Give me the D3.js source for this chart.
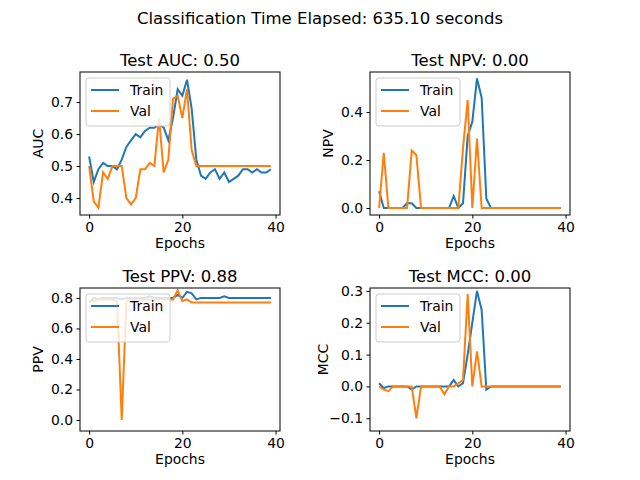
<!DOCTYPE html>
<html><head><meta charset="utf-8">
<script src="https://cdn.jsdelivr.net/npm/d3@7"></script>
<style>body{margin:0;background:#fff}text{font-family:"DejaVu Sans",sans-serif}</style>
</head><body><svg id="c" width="640" height="480"></svg>
<script>
var epochs = d3.range(40);
var aucTrain = [0.53,0.45,0.49,0.51,0.50,0.50,0.49,0.52,0.56,0.58,0.60,0.59,0.61,0.62,0.62,0.63,0.62,0.58,0.65,0.74,0.72,0.77,0.68,0.52,0.47,0.46,0.48,0.49,0.46,0.48,0.45,0.46,0.47,0.49,0.49,0.48,0.49,0.48,0.48,0.49];
var aucVal = [0.50,0.39,0.37,0.48,0.46,0.50,0.50,0.50,0.40,0.38,0.40,0.49,0.49,0.51,0.50,0.65,0.48,0.52,0.71,0.72,0.65,0.74,0.55,0.50,0.50,0.50,0.50,0.50,0.50,0.50,0.50,0.50,0.50,0.50,0.50,0.50,0.50,0.50,0.50,0.50];
var npvTrain = [0.07,0,0,0,0,0,0.02,0.02,0,0,0,0,0,0,0,0,0.05,0,0.02,0.30,0.36,0.54,0.46,0.04,0,0,0,0,0,0,0,0,0,0,0,0,0,0,0,0];
var npvVal = [0,0.23,0,0,0,0,0,0.24,0.22,0,0,0,0,0,0,0,0,0,0.25,0.45,0,0.29,0,0,0,0,0,0,0,0,0,0,0,0,0,0,0,0,0,0];
var ppvTrain = [0.77,0.80,0.79,0.80,0.80,0.80,0.80,0.79,0.80,0.80,0.80,0.80,0.80,0.81,0.80,0.80,0.80,0.80,0.80,0.82,0.80,0.84,0.83,0.79,0.80,0.80,0.80,0.80,0.80,0.81,0.80,0.80,0.80,0.80,0.80,0.80,0.80,0.80,0.80,0.80];
var ppvVal = [0.78,0.78,0.79,0.79,0.79,0.79,0.78,0.0,0.78,0.79,0.79,0.79,0.79,0.79,0.79,0.79,0.79,0.79,0.79,0.85,0.78,0.79,0.77,0.77,0.77,0.77,0.77,0.77,0.77,0.77,0.77,0.77,0.77,0.77,0.77,0.77,0.77,0.77,0.77,0.77];
var mccTrain = [0.01,-0.005,0,0,0,0,0,-0.01,0,0,0,0,0,0,0,0,0.02,0,0.01,0.10,0.20,0.30,0.24,-0.01,0,0,0,0,0,0,0,0,0,0,0,0,0,0,0,0];
var mccVal = [0,-0.01,-0.015,0,0,0,0,0,-0.10,0,0,0,0,0,-0.025,0,0,0.01,0.02,0.29,0,0.11,0,0,0,0,0,0,0,0,0,0,0,0,0,0,0,0,0,0];

var panels = [
  {title:"Test AUC: 0.50", ylabel:"AUC", train:aucTrain, val:aucVal, x0:80, y0:72, ydom:[0.347,0.794], ticks:[0.4,0.5,0.6,0.7]},
  {title:"Test NPV: 0.00", ylabel:"NPV", train:npvTrain, val:npvVal, x0:370, y0:72, ydom:[-0.029,0.567], ticks:[0,0.2,0.4]},
  {title:"Test PPV: 0.88", ylabel:"PPV", train:ppvTrain, val:ppvVal, x0:80, y0:288, ydom:[-0.072,0.865], ticks:[0,0.2,0.4,0.6,0.8]},
  {title:"Test MCC: 0.00", ylabel:"MCC", train:mccTrain, val:mccVal, x0:370, y0:288, ydom:[-0.14,0.309], ticks:[-0.1,0,0.1,0.2,0.3]}
];
var W = 200, H = 143;
var svg = d3.select("#c");
svg.append("text").attr("x",320).attr("y",24).attr("text-anchor","middle").attr("font-size",16.5).text("Classification Time Elapsed: 635.10 seconds");

panels.forEach(function(p) {
  var g = svg.append("g").attr("transform","translate("+p.x0+","+p.y0+")");
  var x = d3.scaleLinear().domain([-1.95,40.95]).range([0,W]);
  var y = d3.scaleLinear().domain(p.ydom).range([H,0]);
  var xa = g.append("g").attr("transform","translate(0,"+H+")").call(d3.axisBottom(x).tickValues([0,20,40]).tickSize(3.5).tickPadding(3.5));
  var ya = g.append("g").call(d3.axisLeft(y).tickValues(p.ticks).tickFormat(d3.format(".1f")).tickSize(3.5).tickPadding(3.5));
  [xa,ya].forEach(function(a){ a.select(".domain").remove(); a.selectAll("text").attr("font-size",13.9).attr("font-family","DejaVu Sans"); });
  var line = d3.line().x(function(d,i){return x(epochs[i]);}).y(function(d){return y(d);});
  g.append("path").attr("d",line(p.train)).attr("fill","none").attr("stroke","#1f77b4").attr("stroke-width",2);
  g.append("path").attr("d",line(p.val)).attr("fill","none").attr("stroke","#ff7f0e").attr("stroke-width",2);
  g.append("rect").attr("width",W).attr("height",H).attr("fill","none").attr("stroke","#000").attr("stroke-width",1);
  g.append("text").attr("x",W/2).attr("y",-6).attr("text-anchor","middle").attr("font-size",16.5).text(p.title);
  g.append("text").attr("x",W/2).attr("y",H+33).attr("text-anchor","middle").attr("font-size",13.9).text("Epochs");
  g.append("text").attr("transform","translate("+(p.ticks.some(function(t){return t<0;})?-42:-37)+","+(H/2)+") rotate(-90)").attr("text-anchor","middle").attr("font-size",13.9).text(p.ylabel);
  // legend
  var lg = g.append("g").attr("transform","translate(6,6)");
  lg.append("rect").attr("width",84).attr("height",48).attr("rx",3).attr("fill","#fff").attr("fill-opacity",0.8).attr("stroke","#ccc");
  [["Train","#1f77b4"],["Val","#ff7f0e"]].forEach(function(e,i){
    lg.append("line").attr("x1",5).attr("x2",33).attr("y1",12+i*21).attr("y2",12+i*21).attr("stroke",e[1]).attr("stroke-width",2);
    lg.append("text").attr("x",44).attr("y",17+i*21).attr("font-size",13.9).text(e[0]);
  });
});
</script></body></html>
